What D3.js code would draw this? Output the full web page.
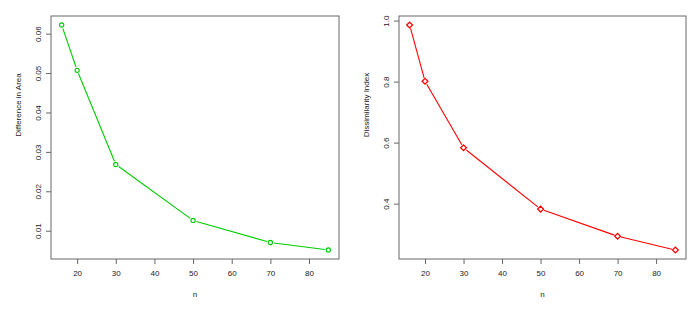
<!DOCTYPE html>
<html>
<head>
<meta charset="utf-8">
<script src="https://cdn.jsdelivr.net/npm/d3@7"></script>
<style>
  body { margin: 0; background: #fff; }
  svg { display: block; }
  text { font-family: "Liberation Sans", Arial, sans-serif; }
</style>
</head>
<body>
<svg id="chart"></svg>
<script>
// data
const nValues = [16, 20, 30, 50, 70, 85];
const areaDiff = [0.0622, 0.0507, 0.0268, 0.0126, 0.0070, 0.0051];
const dissimilarity = [0.9855, 0.801, 0.583, 0.382, 0.293, 0.248];
const xTicks = [20, 30, 40, 50, 60, 70, 80];
const areaTicks = [0.01, 0.02, 0.03, 0.04, 0.05, 0.06];
const dissTicks = [0.4, 0.6, 0.8, 1.0];

const svg = d3.select('#chart').attr('width', 700).attr('height', 310);

// R style 4% padding of the range
function padded(vals) {
    let lo = d3.min(vals), hi = d3.max(vals), p = (hi - lo) * 0.04;
    return [lo - p, hi + p];
}

function diamond(s) {
    return `M0,${-s}L${s},0L0,${s}L${-s},0Z`;
}

function panel(cfg) {
    const g = svg.append('g');
    const x = d3.scaleLinear().domain(padded(nValues)).range([cfg.left, cfg.right]);
    const y = d3.scaleLinear().domain(padded(cfg.values)).range([cfg.bottom, cfg.top]);

    // x axis
    const xa = g.append('g')
        .attr('transform', `translate(0,${cfg.bottom})`)
        .call(d3.axisBottom(x).tickValues(xTicks).tickSize(5).tickSizeOuter(0).tickPadding(6));
    xa.select('.domain').remove();
    xa.selectAll('line').attr('stroke', '#666');
    xa.selectAll('text').attr('fill', '#222').style('font-size', '8px');

    // y axis, labels parallel to axis
    const ya = g.append('g')
        .attr('transform', `translate(${cfg.left},0)`)
        .call(d3.axisLeft(y).tickValues(cfg.ticks).tickSize(5).tickSizeOuter(0).tickFormat(cfg.fmt));
    ya.select('.domain').remove();
    ya.selectAll('line').attr('stroke', '#666');
    ya.selectAll('text')
        .attr('fill', '#222')
        .style('font-size', '8px')
        .attr('text-anchor', 'middle')
        .attr('transform', 'rotate(-90)')
        .attr('x', 0)
        .attr('y', -10)
        .attr('dy', 0);

    // box
    g.append('rect')
        .attr('x', cfg.left).attr('y', cfg.top)
        .attr('width', cfg.right - cfg.left).attr('height', cfg.bottom - cfg.top)
        .attr('fill', 'none').attr('stroke', '#666');

    // line segments with gaps around the points (type = "b")
    const pts = nValues.map((n, i) => [x(n), y(cfg.values[i])]);
    const gap = 3.5;
    for (let i = 0; i < pts.length - 1; i++) {
        let [x1, y1] = pts[i], [x2, y2] = pts[i + 1];
        let dx = x2 - x1, dy = y2 - y1, len = Math.hypot(dx, dy);
        let ux = dx / len, uy = dy / len;
        g.append('line')
            .attr('x1', x1 + ux * gap).attr('y1', y1 + uy * gap)
            .attr('x2', x2 - ux * gap).attr('y2', y2 - uy * gap)
            .attr('stroke', cfg.color).attr('stroke-width', 1.1);
    }

    if (cfg.shape === 'circle') {
        g.selectAll('.pt').data(pts).enter().append('circle')
            .attr('cx', d => d[0]).attr('cy', d => d[1]).attr('r', 2.1)
            .attr('fill', 'none').attr('stroke', cfg.color).attr('stroke-width', 1.1);
    } else {
        g.selectAll('.pt').data(pts).enter().append('path')
            .attr('d', diamond(2.9))
            .attr('transform', d => `translate(${d[0]},${d[1]})`)
            .attr('fill', 'none').attr('stroke', cfg.color).attr('stroke-width', 1.3);
    }

    // axis titles
    g.append('text')
        .attr('x', (cfg.left + cfg.right) / 2).attr('y', 297)
        .attr('text-anchor', 'middle').style('font-size', '8px').attr('fill', '#222')
        .text('n');
    g.append('text')
        .attr('transform', `translate(${cfg.left - 30},105) rotate(-90)`)
        .attr('text-anchor', 'middle').style('font-size', '8px').attr('fill', '#222')
        .text(cfg.ylabel);
}

panel({
    left: 51, right: 339, top: 16, bottom: 259,
    values: areaDiff, ticks: areaTicks, fmt: d3.format('.2f'),
    color: '#00cd00', shape: 'circle', ylabel: 'Difference in Area'
});

panel({
    left: 399, right: 686, top: 16, bottom: 259,
    values: dissimilarity, ticks: dissTicks, fmt: d3.format('.1f'),
    color: '#ff0000', shape: 'diamond', ylabel: 'Dissimilarity Index'
});
</script>
</body>
</html>
